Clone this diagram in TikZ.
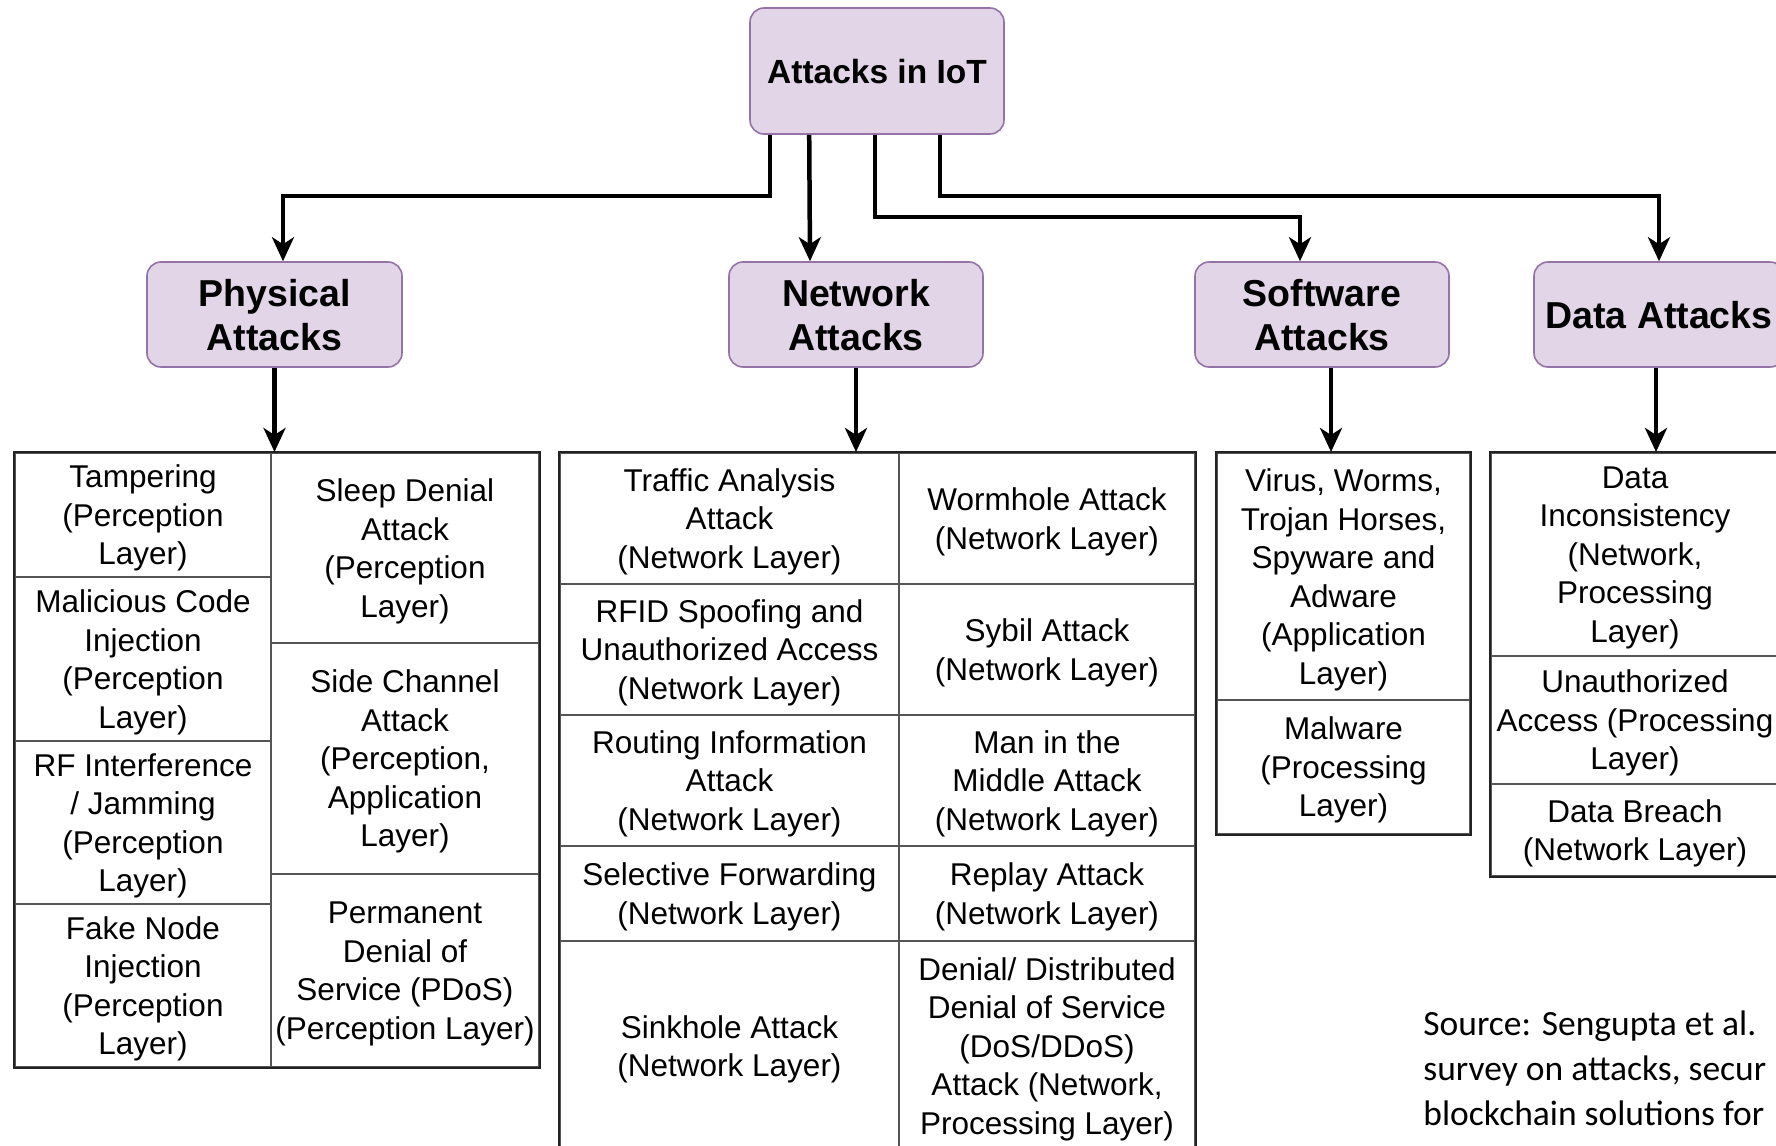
\documentclass[tikz,border=0pt]{standalone}
\usepackage{fontspec}
\setmainfont{Liberation Sans}
\newfontfamily\srcfont{Carlito}
\usetikzlibrary{arrows.meta,calc}
\definecolor{catfill}{HTML}{E1D5E7}
\definecolor{catdraw}{HTML}{9673A6}
\definecolor{gridc}{HTML}{555555}
\definecolor{outerc}{HTML}{222222}
\begin{document}
\begin{tikzpicture}[x=0.5pt,y=-0.5pt,
  span/.style n args={4}{minimum width={(#3-#1)*0.5pt}, minimum height={(#4-#2)*0.5pt}, at={({(#1+#3)/2},{(#2+#4)/2})}, anchor=center},
  catbox/.style={rectangle, rounded corners=7pt, fill=catfill, draw=catdraw, line width=0.8pt, inner sep=0pt, align=center, font=\bfseries\fontsize{18.75}{22}\selectfont, text depth=-6.5pt},
  rootbox/.style={rectangle, rounded corners=7pt, fill=catfill, draw=catdraw, line width=0.8pt, inner sep=0pt, align=center, font=\bfseries\fontsize{16.75}{20}\selectfont, text depth=-0.6pt},
  cellbox/.style={rectangle, draw=gridc, line width=1pt, inner sep=0pt, align=center, font=\fontsize{15.75}{19.25}\selectfont, text depth=-0.8pt},
  tableouter/.style={draw=outerc, line width=1.3pt},
  arr/.style={line width=2.25pt, -{Stealth[length=12pt,width=11pt,inset=3.5pt]}},
  srctext/.style={anchor=base west, inner sep=0pt, font=\srcfont\fontsize{17.75}{22.5}\selectfont}
  ]
\fill[white] (0,0) rectangle (1776,1145);
\useasboundingbox (0,0) rectangle (1776,1145);

% root and categories
\node[rootbox, span={750}{8}{1004}{134}] (root) {Attacks in IoT};
\node[catbox, span={147}{262}{402}{367}] (phys) {Physical\\Attacks};
\node[catbox, span={729}{262}{983}{367}] (net) {Network\\Attacks};
\node[catbox, span={1195}{262}{1449}{367}] (soft) {Software\\Attacks};
\node[catbox, span={1534}{262}{1784}{367}] (data) {Data Attacks};

% physical table
\node[cellbox, span={15}{453}{271}{577}] (p1) {Tampering\\(Perception\\Layer)};
\node[cellbox, span={15}{577}{271}{741}] (p2) {Malicious Code\\Injection\\(Perception\\Layer)};
\node[cellbox, span={15}{741}{271}{904}] (p3) {RF Interference\\/ Jamming\\(Perception\\Layer)};
\node[cellbox, span={15}{904}{271}{1067}] (p4) {Fake Node\\Injection\\(Perception\\Layer)};
\node[cellbox, span={271}{453}{539}{643}] (p5) {Sleep Denial\\Attack\\(Perception\\Layer)};
\node[cellbox, span={271}{643}{539}{874}] (p6) {Side Channel\\Attack\\(Perception,\\Application\\Layer)};
\node[cellbox, span={271}{874}{539}{1067}] (p7) {Permanent\\Denial of\\Service (PDoS)\\(Perception Layer)};
\draw[tableouter] (p1.north west) rectangle (p7.south east);

% network table
\node[cellbox, span={560}{453}{899}{584}] (n1) {Traffic Analysis\\Attack\\(Network Layer)};
\node[cellbox, span={560}{584}{899}{715}] (n2) {RFID Spoofing and\\Unauthorized Access\\(Network Layer)};
\node[cellbox, span={560}{715}{899}{846}] (n3) {Routing Information\\Attack\\(Network Layer)};
\node[cellbox, span={560}{846}{899}{941}] (n4) {Selective Forwarding\\(Network Layer)};
\node[cellbox, span={560}{941}{899}{1151}] (n5) {Sinkhole Attack\\(Network Layer)};
\node[cellbox, span={899}{453}{1195}{584}] (n6) {Wormhole Attack\\(Network Layer)};
\node[cellbox, span={899}{584}{1195}{715}] (n7) {Sybil Attack\\(Network Layer)};
\node[cellbox, span={899}{715}{1195}{846}] (n8) {Man in the\\Middle Attack\\(Network Layer)};
\node[cellbox, span={899}{846}{1195}{941}] (n9) {Replay Attack\\(Network Layer)};
\node[cellbox, span={899}{941}{1195}{1151}] (n10) {Denial/ Distributed\\Denial of Service\\(DoS/DDoS)\\Attack (Network,\\Processing Layer)};
\draw[tableouter] (n1.north west) rectangle (n10.south east);

% software table
\node[cellbox, span={1217}{453}{1470}{700}] (s1) {Virus, Worms,\\Trojan Horses,\\Spyware and\\Adware\\(Application\\Layer)};
\node[cellbox, span={1217}{700}{1470}{834}] (s2) {Malware\\(Processing\\Layer)};
\draw[tableouter] (s1.north west) rectangle (s2.south east);

% data table
\node[cellbox, span={1491}{453}{1779}{656}] (d1) {Data\\Inconsistency\\(Network,\\Processing\\Layer)};
\node[cellbox, span={1491}{656}{1779}{784}] (d2) {Unauthorized\\Access (Processing\\Layer)};
\node[cellbox, span={1491}{784}{1779}{876}] (d3) {Data Breach\\(Network Layer)};
\draw[tableouter] (d1.north west) rectangle (d3.south east);

% connectors from root
\draw[arr] ($(root.south west)+(21,0)$) |- ($(phys.north)+(8.5,-65)$) -- ($(phys.north)+(8.5,0)$);
\draw[arr] ($(root.south west)+(60,0)$) -- ($(net.north)+(-46,0)$);
\draw[arr] ($(root.south west)+(126,0)$) |- ($(soft.north)+(-22,-44)$) -- ($(soft.north)+(-22,0)$);
\draw[arr] ($(root.south west)+(191,0)$) |- ($(data.north)+(0,-65)$) -- (data.north);

% connectors from categories to tables
\draw[arr] (phys.south) -- (phys.south |- p1.north);
\draw[arr] (net.south) -- (net.south |- n1.north);
\coordinate (so) at ($(soft.south)+(9,0)$);
\draw[arr] (so) -- (so |- s1.north);
\coordinate (dout) at ($(data.south)+(-3,0)$);
\draw[arr] (dout) -- (dout |- d1.north);

% source text
\node[srctext] (src1) at (1423,1035) {Source: Sengupta et al.};
\node[srctext] (src2) at (1423,1080) {survey on attacks, secur};
\node[srctext] (src3) at (1423,1125) {blockchain solutions for};
\end{tikzpicture}
\end{document}
